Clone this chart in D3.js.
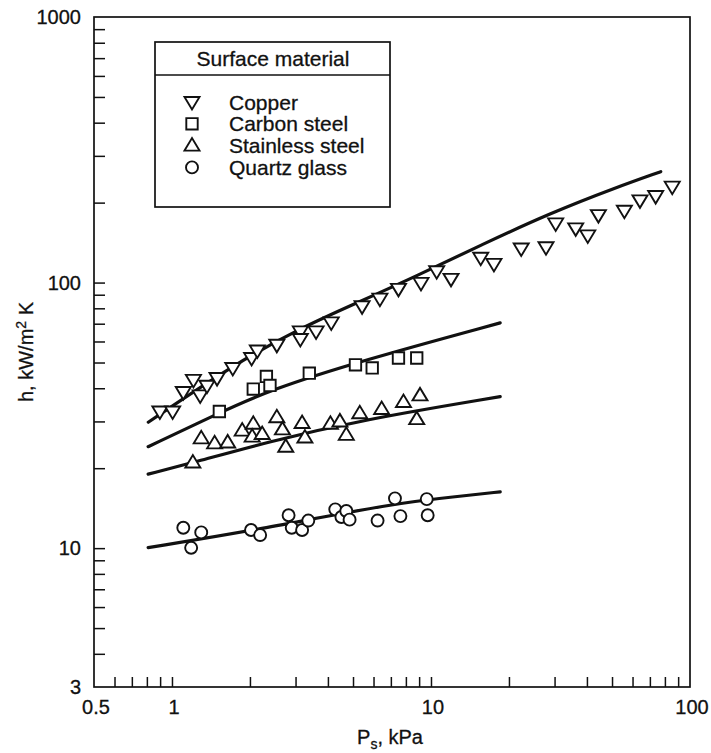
<!DOCTYPE html>
<html>
<head>
<meta charset="utf-8">
<script src="https://cdn.jsdelivr.net/npm/d3@7"></script>
<style>
  html, body { margin: 0; padding: 0; background: #fff; }
  svg { display: block; }
  text { font-family: "Liberation Sans", Arial, Helvetica, sans-serif; fill: #111; stroke: #111; stroke-width: 0.3px; }
</style>
</head>
<body>
<svg id="chart" width="711" height="753"></svg>
<script>
// ---------------- data ----------------
const seriesNames = ["Copper", "Carbon steel", "Stainless steel", "Quartz glass"];
const legendTitle = "Surface material";

// pressure Ps (kPa) and heat transfer coefficient h (kW/m2K)
const copperP = [0.898, 1.006, 1.106, 1.21, 1.285, 1.365, 1.493, 1.717, 2.03, 2.136, 2.54, 3.13, 3.13, 3.60, 4.12, 5.42, 6.35, 7.49, 9.15, 10.52, 11.95, 15.56, 17.5, 22.3, 27.8, 30.3, 36.2, 40.3, 44.3, 55.8, 64.1, 73.7, 85.4];
const copperH = [32.7, 32.7, 38.7, 43.0, 37.6, 40.9, 43.7, 47.7, 52.0, 55.5, 58.3, 65.5, 61.3, 65.5, 70.8, 81.4, 87.0, 94.7, 99.7, 110.3, 103.3, 124, 117.6, 134.4, 135.9, 167, 160, 150.5, 179.5, 186.5, 204, 211.7, 229.7];

const carbonP = [1.524, 2.06, 2.315, 2.39, 3.39, 5.11, 5.93, 7.49, 8.81];
const carbonH = [32.7, 39.7, 44.3, 41.0, 45.6, 49.0, 47.7, 52.0, 52.0];

const stainlessP = [1.204, 1.297, 1.461, 1.641, 1.867, 2.06, 2.04, 2.23, 2.54, 2.67, 2.75, 3.18, 3.26, 4.09, 4.45, 4.71, 5.31, 6.45, 7.83, 9.07, 8.81];
const stainlessH = [21.0, 25.9, 24.8, 25.0, 27.7, 29.4, 26.3, 26.9, 31.1, 28.0, 24.1, 29.6, 26.1, 29.4, 30.0, 26.7, 32.2, 33.4, 35.5, 37.6, 30.6];

const quartzP = [1.106, 1.186, 1.297, 2.02, 2.19, 2.82, 2.90, 3.18, 3.36, 4.27, 4.51, 4.71, 4.85, 6.22, 7.26, 7.62, 9.63, 9.71];
const quartzH = [11.93, 10.03, 11.46, 11.7, 11.2, 13.3, 11.93, 11.7, 12.7, 14.0, 13.1, 13.8, 12.8, 12.7, 15.4, 13.2, 15.3, 13.3];

// correlation curves
const copperCurveP = [0.810, 1.725, 3.12, 5.32, 8.81, 15.92, 28.8, 52.1, 77.1];
const copperCurveH = [29.8, 49.0, 67.3, 84.8, 105.9, 139.8, 182.4, 228.5, 261.6];
const carbonCurveP = [0.809, 1.514, 2.4, 5.39, 18.5];
const carbonCurveH = [24.1, 32.2, 39.5, 50.8, 70.5];
const stainlessCurveP = [0.809, 1.21, 2.335, 5.39, 18.5];
const stainlessCurveH = [19.0, 21.0, 25.1, 30.4, 37.2];
const quartzCurveP = [0.809, 2.02, 7.26, 13.2, 18.5];
const quartzCurveH = [10.05, 11.6, 14.8, 15.7, 16.3];

// axis ticks
const xTicks = [0.6, 0.7, 0.8, 0.9, 1, 2, 3, 4, 5, 6, 7, 8, 9, 10, 20, 30, 40, 50, 60, 70, 80, 90];
const xLabels = [0.5, 1, 10, 100];
const yTicks = [4, 5, 6, 7, 8, 9, 10, 20, 30, 40, 50, 60, 70, 80, 90, 100, 200, 300, 400, 500, 600, 700, 800, 900];
const yLabels = [3, 10, 100, 1000];

// ---------------- drawing ----------------
const svg = d3.select("#chart");
const L = 94, R = 690, T = 17, B = 687;

const x = d3.scaleLog().domain([0.5, 100]).range([L, R]);
const y = d3.scaleLog().domain([3, 1000]).range([B, T]);

const zip = (P, H) => P.map((p, i) => ({ p: p, h: H[i] }));

// ticks (inside)
const xAxis = d3.axisBottom(x).tickValues(xTicks).tickSizeInner(-10).tickSizeOuter(0).tickFormat("");
svg.append("g").attr("transform", `translate(0,${B})`).call(xAxis)
  .call(g => g.select(".domain").remove())
  .call(g => g.selectAll("line").attr("stroke", "#111").attr("stroke-width", 1.5));

const yAxis = d3.axisLeft(y).tickValues(yTicks).tickSizeInner(-11).tickSizeOuter(0).tickFormat("");
svg.append("g").attr("transform", `translate(${L},0)`).call(yAxis)
  .call(g => g.select(".domain").remove())
  .call(g => g.selectAll("line").attr("stroke", "#111").attr("stroke-width", 1.5));

// frame
svg.append("rect").attr("x", L).attr("y", T).attr("width", R - L).attr("height", B - T)
  .attr("fill", "none").attr("stroke", "#111").attr("stroke-width", 1.7);

// tick labels
svg.append("g").selectAll("text").data(xLabels).join("text")
  .attr("x", d => x(d) + 2).attr("y", B + 27)
  .attr("text-anchor", "middle").attr("font-size", 20).text(d => d);

svg.append("g").selectAll("text").data(yLabels).join("text")
  .attr("x", L - 13).attr("y", d => y(d)).attr("dy", "0.36em")
  .attr("text-anchor", "end").attr("font-size", 20).text(d => d);

// axis titles
const xt = svg.append("text").attr("x", 390).attr("y", 744).attr("text-anchor", "middle").attr("font-size", 20);
xt.append("tspan").text("P");
xt.append("tspan").attr("font-size", 14).attr("dy", 5).text("s");
xt.append("tspan").attr("dy", -5).text(", kPa");

const yt = svg.append("text").attr("transform", "translate(33,352) rotate(-90)").attr("text-anchor", "middle").attr("font-size", 20);
yt.append("tspan").text("h, kW/m");
yt.append("tspan").attr("font-size", 14).attr("dy", -7).text("2");
yt.append("tspan").attr("dy", 7).text(" K");

// curves
const line = d3.line().x(d => x(d.p)).y(d => y(d.h)).curve(d3.curveBasis);
[[copperCurveP, copperCurveH], [carbonCurveP, carbonCurveH], [stainlessCurveP, stainlessCurveH], [quartzCurveP, quartzCurveH]]
  .forEach(([P, H]) => {
    svg.append("path").datum(zip(P, H)).attr("d", line)
      .attr("fill", "none").attr("stroke", "#111").attr("stroke-width", 3.2).attr("stroke-linecap", "round");
  });

// marker shapes
const downTri = "M-7.5,-5L7.5,-5L0,7.5Z";
const upTri = "M-7.5,5L7.5,5L0,-7.5Z";
const square = "M-5.7,-5.7H5.7V5.7H-5.7Z";
const circle = "M6,0A6,6 0 1,1 -6,0A6,6 0 1,1 6,0Z";
const shapes = [downTri, square, upTri, circle];
const markStyle = sel => sel.attr("fill", "#fff").attr("stroke", "#111").attr("stroke-width", 1.9).attr("stroke-linejoin", "miter");

[[copperP, copperH], [carbonP, carbonH], [stainlessP, stainlessH], [quartzP, quartzH]]
  .forEach(([P, H], si) => {
    svg.append("g").selectAll("path").data(zip(P, H)).join("path")
      .attr("transform", d => `translate(${x(d.p)},${y(d.h)})`)
      .attr("d", shapes[si]).call(markStyle);
  });

// legend
const lg = svg.append("g");
lg.append("rect").attr("x", 155).attr("y", 42).attr("width", 235).attr("height", 165)
  .attr("fill", "#fff").attr("stroke", "#111").attr("stroke-width", 1.7);
lg.append("line").attr("x1", 155).attr("x2", 390).attr("y1", 75).attr("y2", 75)
  .attr("stroke", "#111").attr("stroke-width", 1.5);
lg.append("text").attr("x", 273).attr("y", 66).attr("text-anchor", "middle").attr("font-size", 21).text(legendTitle);
seriesNames.forEach((name, i) => {
  const cy = 102 + i * 21.8;
  lg.append("path").attr("transform", `translate(192,${cy})`).attr("d", shapes[i]).call(markStyle);
  lg.append("text").attr("x", 229).attr("y", cy).attr("dy", "0.36em").attr("font-size", 21).text(name);
});
</script>
</body>
</html>
